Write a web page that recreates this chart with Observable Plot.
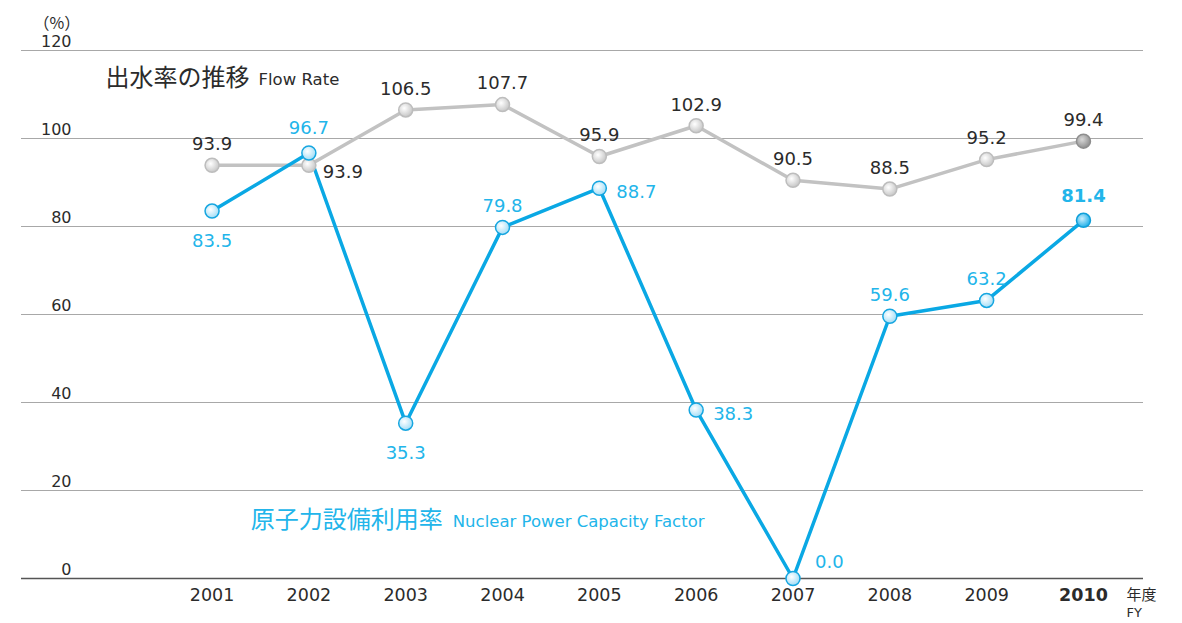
<!DOCTYPE html>
<html>
<head>
<meta charset="utf-8">
<script src="https://cdn.jsdelivr.net/npm/d3@7"></script>
<script src="https://cdn.jsdelivr.net/npm/@observablehq/plot@0.6"></script>
<style>
  html, body { margin: 0; padding: 0; background: #fff; }
  #chart svg { display: block; }
</style>
</head>
<body>
<div id="chart"></div>
<script>
// ---- data ----
const years = [2001, 2002, 2003, 2004, 2005, 2006, 2007, 2008, 2009, 2010];
const flowRate = [93.9, 93.9, 106.5, 107.7, 95.9, 102.9, 90.5, 88.5, 95.2, 99.4];
const capacityFactor = [83.5, 96.7, 35.3, 79.8, 88.7, 38.3, 0.0, 59.6, 63.2, 81.4];
const yTicks = [0, 20, 40, 60, 80, 100, 120];
const flowTitleJa = "出水率の推移";
const flowTitleEn = "Flow Rate";
const capTitleJa = "原子力設備利用率";
const capTitleEn = "Nuclear Power Capacity Factor";
const unitLabel = "（%）";
const fyLabelJa = "年度";
const fyLabelEn = "FY";

// ---- tables ----
const flow = years.map((year, i) => ({year, value: flowRate[i]}));
const cap = years.map((year, i) => ({year, value: capacityFactor[i]}));
const last = years[years.length - 1];

const flowRight = new Set([2002]);
const capBelow = new Set([2001, 2003]);
const capRight = new Set([2005, 2006]);
const capRightUp = new Set([2007]);

const BLUE = "#0aa8e4";
const BLUE_TEXT = "#22b5ea";
const GRAY_LINE = "#c2c2c2";
const TEXT = "#2b2b2b";
const NUM_FONT = "'DejaVu Sans', 'Noto Sans', sans-serif";
const JA_FONT = "'Noto Sans CJK JP', 'Noto Sans', sans-serif";

const fmt = d => d.value.toFixed(1);
const yearText = d => String(d);

const chart = Plot.plot({
  width: 1182,
  height: 623,
  marginLeft: 21,
  marginRight: 39,
  marginTop: 50,
  marginBottom: 45,
  x: {domain: [1999.032, 2010.62], axis: null},
  y: {domain: [0, 120], axis: null},
  style: {fontFamily: NUM_FONT, background: "#fff", color: TEXT},
  marks: [
    Plot.ruleY(yTicks.filter(d => d > 0), {stroke: "#a8a8a8", strokeWidth: 1}),
    Plot.ruleY([0], {stroke: "#555", strokeWidth: 1.5}),
    // y tick labels
    Plot.text(yTicks, {y: d => d, frameAnchor: "left", dx: 50, dy: -9, textAnchor: "end", fontSize: 16, fill: TEXT}),
    // unit
    Plot.text([unitLabel], {frameAnchor: "top-left", dx: 12, dy: -33, textAnchor: "start", fontSize: 16, fill: TEXT, fontFamily: JA_FONT}),
    // x labels
    Plot.text(years.filter(d => d !== last), {x: d => d, text: yearText, frameAnchor: "bottom", dy: 22, fontSize: 17.5, fill: TEXT}),
    Plot.text([last], {x: d => d, text: yearText, frameAnchor: "bottom", dy: 22, fontSize: 17.5, fill: TEXT, fontWeight: "bold"}),
    Plot.text([fyLabelJa], {frameAnchor: "bottom-right", dx: -17, dy: 21, textAnchor: "start", fontSize: 15, fill: TEXT, fontFamily: JA_FONT}),
    Plot.text([fyLabelEn], {frameAnchor: "bottom-right", dx: -17, dy: 38, textAnchor: "start", fontSize: 13, fill: TEXT}),
    // series titles
    Plot.text([flowTitleJa], {x: () => 1999.9, y: () => 113.6, textAnchor: "start", fontSize: 24, fill: TEXT, fontFamily: JA_FONT}),
    Plot.text([flowTitleEn], {x: () => 1999.9, y: () => 113.6, dx: 153, dy: 1, textAnchor: "start", fontSize: 16.5, fill: TEXT, fontFamily: NUM_FONT}),
    Plot.text([capTitleJa], {x: () => 2001.4, y: () => 13.2, textAnchor: "start", fontSize: 24, fill: BLUE_TEXT, fontFamily: JA_FONT}),
    Plot.text([capTitleEn], {x: () => 2001.4, y: () => 13.2, dx: 202, dy: 1, textAnchor: "start", fontSize: 16.5, fill: BLUE_TEXT, fontFamily: NUM_FONT}),
    // lines
    Plot.line(flow, {x: "year", y: "value", stroke: GRAY_LINE, strokeWidth: 3.5}),
    Plot.line(cap, {x: "year", y: "value", stroke: BLUE, strokeWidth: 3.5}),
    // dots
    Plot.dot(flow.filter(d => d.year !== last), {x: "year", y: "value", r: 7, fill: "url(#gGray)", stroke: "#bdbdbd", strokeWidth: 1.5}),
    Plot.dot(flow.filter(d => d.year === last), {x: "year", y: "value", r: 7, fill: "url(#gGrayDark)", stroke: "#8e8e8e", strokeWidth: 1.5}),
    Plot.dot(cap.filter(d => d.year !== last), {x: "year", y: "value", r: 7, fill: "url(#gBlue)", stroke: "#16a6e0", strokeWidth: 1.5}),
    Plot.dot(cap.filter(d => d.year === last), {x: "year", y: "value", r: 7, fill: "url(#gBlueDark)", stroke: "#0f9fd9", strokeWidth: 1.5}),
    // flow labels
    Plot.text(flow.filter(d => !flowRight.has(d.year)), {x: "year", y: "value", text: fmt, dy: -21, fontSize: 18, fill: TEXT}),
    Plot.text(flow.filter(d => flowRight.has(d.year)), {x: "year", y: "value", text: fmt, dx: 14, dy: 7, textAnchor: "start", fontSize: 18, fill: TEXT}),
    // capacity labels
    Plot.text(cap.filter(d => !capBelow.has(d.year) && !capRight.has(d.year) && !capRightUp.has(d.year) && d.year !== last && d.year !== 2002), {x: "year", y: "value", text: fmt, dy: -21, fontSize: 18, fill: BLUE_TEXT}),
    Plot.text(cap.filter(d => d.year === 2002), {x: "year", y: "value", text: fmt, dy: -25, fontSize: 18, fill: BLUE_TEXT}),
    Plot.text(cap.filter(d => d.year === last), {x: "year", y: "value", text: fmt, dy: -24, fontSize: 18, fill: BLUE_TEXT, fontWeight: "bold"}),
    Plot.text(cap.filter(d => capBelow.has(d.year)), {x: "year", y: "value", text: fmt, dy: 30, fontSize: 18, fill: BLUE_TEXT}),
    Plot.text(cap.filter(d => capRight.has(d.year)), {x: "year", y: "value", text: fmt, dx: 17, dy: 4, textAnchor: "start", fontSize: 18, fill: BLUE_TEXT}),
    Plot.text(cap.filter(d => capRightUp.has(d.year)), {x: "year", y: "value", text: fmt, dx: 22, dy: -16, textAnchor: "start", fontSize: 18, fill: BLUE_TEXT})
  ]
});

d3.select(chart).insert("defs", ":first-child").html(`
  <radialGradient id="gGray" cx="40%" cy="38%" r="65%">
    <stop offset="0%" stop-color="#ffffff"/>
    <stop offset="100%" stop-color="#c4c4c4"/>
  </radialGradient>
  <radialGradient id="gGrayDark" cx="40%" cy="38%" r="65%">
    <stop offset="0%" stop-color="#d8d8d8"/>
    <stop offset="100%" stop-color="#8c8c8c"/>
  </radialGradient>
  <radialGradient id="gBlue" cx="40%" cy="38%" r="65%">
    <stop offset="0%" stop-color="#ffffff"/>
    <stop offset="100%" stop-color="#9fdcf6"/>
  </radialGradient>
  <radialGradient id="gBlueDark" cx="40%" cy="38%" r="65%">
    <stop offset="0%" stop-color="#c9eefd"/>
    <stop offset="100%" stop-color="#18ade8"/>
  </radialGradient>
`);

document.getElementById("chart").appendChild(chart);
</script>
</body>
</html>
